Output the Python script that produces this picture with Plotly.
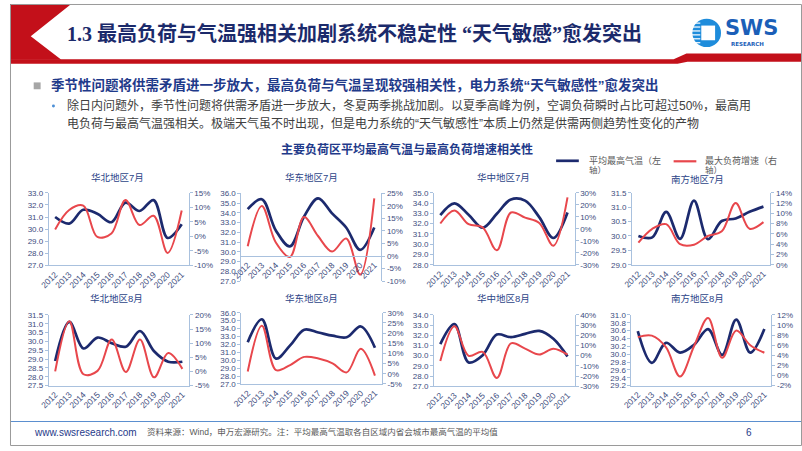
import plotly.graph_objects as go

W, H = 802, 451

years = [str(y) for y in range(2012, 2022)]

titles = ["华北地区7月", "华东地区7月", "华中地区7月", "南方地区7月",
          "华北地区8月", "华东地区8月", "华中地区8月", "南方地区8月"]

# average max temperature (left axis, °C)
temp_hb7 = [31.0, 30.46, 31.6, 31.27, 30.57, 32.19, 31.5, 32.4, 29.27, 30.4]
temp_hd7 = [34.39, 35.4, 32.2, 30.56, 33.6, 35.5, 33.95, 32.5, 30.2, 32.5]
temp_hz7 = [32.83, 33.98, 32.87, 31.6, 32.96, 34.36, 34.24, 32.64, 30.6, 33.09]
temp_nf7 = [30.0, 29.95, 30.84, 29.9, 31.23, 29.89, 30.52, 30.61, 30.84, 31.02]
temp_hb8 = [28.89, 31.11, 29.6, 30.22, 29.9, 29.7, 30.59, 29.44, 28.85, 28.85]
temp_hd8 = [32.28, 35.17, 30.2, 31.87, 33.85, 33.5, 33.1, 32.9, 34.26, 31.58]
temp_hz8 = [31.14, 33.1, 29.34, 30.05, 32.07, 31.82, 32.14, 32.43, 31.66, 29.92]
temp_nf8 = [30.59, 29.78, 30.29, 30.04, 30.24, 30.64, 29.98, 30.88, 30.04, 30.64]

# max load growth (right axis, %)
load_hb7 = [2.4, 9.1, 10.6, -0.2, 1.0, 12.5, 3.9, 7.1, -5.7, 8.9]
load_hd7 = [3.9, 20.0, 5.4, -0.4, 15.6, 8.0, 1.8, 7.0, -7.4, 23.0]
load_hz7 = [4.4, 15.3, 3.8, 1.1, -18.0, 13.6, 9.3, 4.9, -14.2, 26.2]
load_nf7 = [4.3, 7.0, 7.9, 4.0, 3.9, 5.6, 6.5, 12.0, 7.0, 8.3]
load_hb8 = [0.0, 17.8, -1.0, 0.2, 11.3, -0.2, 11.3, -2.1, 6.5, 0.9]
load_hd8 = [1.1, 23.6, 1.8, 4.3, 8.3, 7.5, 5.1, 0.7, 12.3, -0.9]
load_hz8 = [-5.3, 28.8, -0.1, 3.7, -22.0, 12.1, 6.9, 1.1, 6.9, 1.1]
load_nf8 = [7.6, 7.9, 5.6, -0.2, 5.8, 11.4, 3.5, 8.9, 6.0, 4.5]

temps = [temp_hb7, temp_hd7, temp_hz7, temp_nf7, temp_hb8, temp_hd8, temp_hz8, temp_nf8]
loads = [load_hb7, load_hd7, load_hz7, load_nf7, load_hb8, load_hd8, load_hz8, load_nf8]

# axis ranges (min, max, step)
left_axes = [(27.0, 33.0, 1.0), (27.0, 36.0, 1.0), (28.0, 35.0, 1.0), (29.0, 31.5, 0.5),
             (27.5, 31.5, 0.5), (27.0, 36.0, 1.0), (27.0, 34.0, 1.0), (29.2, 31.0, 0.2)]
right_axes = [(-10, 15, 5), (-10, 25, 5), (-30, 30, 10), (0, 14, 2),
              (-5, 20, 5), (-5, 30, 5), (-30, 40, 10), (-2, 12, 2)]

# pixel boxes of each plot area: (x0, x1, ytop, ybottom)
boxes = [(39.3, 181, 192.7, 266.7), (234.3, 376, 193.3, 282.7), (429.3, 571.7, 192.7, 266),
         (630, 770, 192.7, 266),
         (39.3, 181.7, 317.3, 389.3), (234.3, 376.7, 315, 387.7), (429.3, 571.7, 317.3, 390),
         (629.3, 771, 317.3, 389.3)]
title_pos = [(109, 177), (305, 177), (500, 177), (696, 179.5),
             (108, 300), (305, 300), (500, 300), (696, 300)]

NAVY = "#1C2A6E"
RED = "#E8474C"
AXC = "#A9C1DE"
TICKC = "#3D4C7E"
CJK = "Liberation Sans, Noto Sans CJK SC"


def px(x):
    return x / W


def py(y):
    return 1 - y / H


def ticks(lo, hi, step, fmt):
    vals = []
    v = lo
    while v <= hi + 1e-9:
        vals.append(round(v, 4))
        v += step
    return vals, [fmt(t) for t in vals]


fig = go.Figure()
layout = {}
annotations = []
shapes = []

for i in range(8):
    n = i + 1
    xa = "xaxis" if n == 1 else f"xaxis{n}"
    xr = "x" if n == 1 else f"x{n}"
    yl_id = 2 * i + 1
    yr_id = 2 * i + 2
    yla = "yaxis" if yl_id == 1 else f"yaxis{yl_id}"
    ylr = "y" if yl_id == 1 else f"y{yl_id}"
    yra = f"yaxis{yr_id}"
    yrr = f"y{yr_id}"
    x0, x1, yt, yb = boxes[i]

    fig.add_trace(go.Scatter(x=years, y=temps[i], xaxis=xr, yaxis=ylr, mode="lines",
                             line=dict(color=NAVY, width=2.7, shape="spline", smoothing=1.0),
                             showlegend=False, hoverinfo="skip"))
    fig.add_trace(go.Scatter(x=years, y=loads[i], xaxis=xr, yaxis=yrr, mode="lines",
                             line=dict(color=RED, width=2.0, shape="spline", smoothing=1.0),
                             showlegend=False, hoverinfo="skip"))

    lo, hi, st = left_axes[i]
    lv, lt = ticks(lo, hi, st, lambda t: f"{t:.1f}")
    ro, rh, rs = right_axes[i]
    rv, rt = ticks(ro, rh, rs, lambda t: f"{int(round(t))}%")

    xdict = dict(domain=[px(x0), px(x1)], type="category", tickangle=-45,
                 showline=True, linecolor=AXC, linewidth=1, ticks="",
                 tickfont=dict(size=8.5, color=TICKC, family=CJK), showgrid=False,
                 zeroline=False, range=[-0.45, 9.5], fixedrange=True, ticklen=0)
    if i == 1:
        # horizontal axis crosses at 0% of the right axis
        frac = (0 - ro) / (rh - ro)
        pos = py(yb) + frac * (py(yt) - py(yb))
        xdict.update(anchor="free", position=pos)
    else:
        xdict.update(anchor=ylr)
    layout[xa] = xdict
    layout[yla] = dict(domain=[py(yb), py(yt)], anchor=xr, range=[lo, hi],
                       tickvals=lv, ticktext=lt, showline=True, linecolor=AXC,
                       linewidth=1, ticks="outside", ticklen=3, tickcolor=AXC,
                       tickfont=dict(size=8, color=TICKC, family=CJK), showgrid=False,
                       zeroline=False, fixedrange=True)
    layout[yra] = dict(overlaying=ylr, side="right", anchor=xr, range=[ro, rh],
                       tickvals=rv, ticktext=rt, showline=True, linecolor=AXC,
                       linewidth=1, ticks="outside", ticklen=3, tickcolor=AXC,
                       tickfont=dict(size=8, color=TICKC, family=CJK), showgrid=False,
                       zeroline=False, fixedrange=True)
    tx, ty = title_pos[i]
    annotations.append(dict(x=px(tx), y=py(ty), xref="paper", yref="paper",
                            text=titles[i], showarrow=False, xanchor="center", yanchor="middle",
                            font=dict(size=9.5, color="#2C4588", family=CJK)))

# ---- slide decorations ----
RED_H = "#C3101A"
# header chevron
shapes.append(dict(type="path", xref="paper", yref="paper",
                   path=f"M {px(0)},{py(0)} L {px(62)},{py(0)} L {px(21)},{py(33)} L {px(52)},{py(57)} L {px(0)},{py(57)} Z",
                   fillcolor=RED_H, line=dict(width=0), layer="above"))
# header bottom band
shapes.append(dict(type="path", xref="paper", yref="paper",
                   path=(f"M {px(0)},{py(56.5)} L {px(672)},{py(56.5)} L {px(685)},{py(50.5)} "
                         f"L {px(802)},{py(50.5)} L {px(802)},{py(59)} L {px(686)},{py(59)} "
                         f"L {px(676)},{py(61)} L {px(0)},{py(61)} Z"),
                   fillcolor=RED_H, line=dict(width=0), layer="above"))
# logo
shapes.append(dict(type="circle", xref="paper", yref="paper",
                   x0=px(691), x1=px(720), y0=py(44), y1=py(15),
                   fillcolor="#1E8CDB", line=dict(width=0)))
shapes.append(dict(type="rect", xref="paper", yref="paper",
                   x0=px(700), x1=px(714), y0=py(37), y1=py(22),
                   fillcolor="white", line=dict(width=0)))
for yy in [19.5, 23.5, 27.5, 31.5, 35.5, 39.5]:
    shapes.append(dict(type="line", xref="paper", yref="paper",
                       x0=px(688), x1=px(699), y0=py(yy), y1=py(yy),
                       line=dict(color="white", width=1.2)))
annotations.append(dict(x=px(722), y=py(24.5), xref="paper", yref="paper", text="<b>SWS</b>",
                        showarrow=False, xanchor="left", yanchor="middle",
                        font=dict(size=21, color="#1B5FB8", family="DejaVu Sans")))
annotations.append(dict(x=px(747), y=py(40.5), xref="paper", yref="paper", text="<b>RESEARCH</b>",
                        showarrow=False, xanchor="center", yanchor="middle",
                        font=dict(size=5.5, color="#1B5FB8", family="DejaVu Sans")))
# header title
annotations.append(dict(x=px(56), y=py(30), xref="paper", yref="paper",
                        text="<b>1.3 最高负荷与气温强相关加剧系统不稳定性 “天气敏感”愈发突出</b>",
                        showarrow=False, xanchor="left", yanchor="middle",
                        font=dict(size=20, color="#1B2A6B", family="Liberation Serif, Noto Sans CJK SC")))
# bullets
shapes.append(dict(type="rect", xref="paper", yref="paper",
                   x0=px(24), x1=px(31), y0=py(87), y1=py(80),
                   fillcolor="#A6A6A6", line=dict(width=0)))
annotations.append(dict(x=px(39), y=py(83), xref="paper", yref="paper",
                        text="<b>季节性问题将供需矛盾进一步放大，最高负荷与气温呈现较强相关性，电力系统“天气敏感性”愈发突出</b>",
                        showarrow=False, xanchor="left", yanchor="middle",
                        font=dict(size=13.5, color="#1F3A8A", family=CJK)))
shapes.append(dict(type="circle", xref="paper", yref="paper",
                   x0=px(42.5), x1=px(45.5), y0=py(105.5), y1=py(102.5),
                   fillcolor="#4C8FD6", line=dict(width=0)))
annotations.append(dict(x=px(56), y=py(104), xref="paper", yref="paper",
                        text="除日内问题外，季节性问题将供需矛盾进一步放大，冬夏两季挑战加剧。以夏季高峰为例，空调负荷瞬时占比可超过50%，最高用",
                        showarrow=False, xanchor="left", yanchor="middle",
                        font=dict(size=12, color="#404040", family=CJK)))
annotations.append(dict(x=px(56), y=py(122), xref="paper", yref="paper",
                        text="电负荷与最高气温强相关。极端天气虽不时出现，但是电力系统的“天气敏感性”本质上仍然是供需两侧趋势性变化的产物",
                        showarrow=False, xanchor="left", yanchor="middle",
                        font=dict(size=12, color="#404040", family=CJK)))
# chart title
annotations.append(dict(x=px(402), y=py(148), xref="paper", yref="paper",
                        text="<b>主要负荷区平均最高气温与最高负荷增速相关性</b>",
                        showarrow=False, xanchor="center", yanchor="middle",
                        font=dict(size=12, color="#1F3A8A", family=CJK)))
# legend
shapes.append(dict(type="line", xref="paper", yref="paper", x0=px(553), x1=px(576),
                   y0=py(160), y1=py(160), line=dict(color=NAVY, width=2.7)))
shapes.append(dict(type="line", xref="paper", yref="paper", x0=px(672), x1=px(695),
                   y0=py(160.5), y1=py(160.5), line=dict(color=RED, width=2.2)))
for lx, l1 in [(584, "平均最高气温（左"), (702, "最大负荷增速（右")]:
    annotations.append(dict(x=px(lx), y=py(159.5), xref="paper", yref="paper",
                            text=l1, showarrow=False, xanchor="left", yanchor="middle",
                            font=dict(size=9, color="#595959", family=CJK)))
    annotations.append(dict(x=px(lx), y=py(169), xref="paper", yref="paper",
                            text="轴）", showarrow=False, xanchor="left", yanchor="middle",
                            font=dict(size=8.5, color="#595959", family=CJK)))
# footer
shapes.append(dict(type="line", xref="paper", yref="paper", x0=0, x1=1,
                   y0=py(426), y1=py(426), line=dict(color="#5B8FCF", width=1.2)))
annotations.append(dict(x=px(22), y=py(437), xref="paper", yref="paper",
                        text="www.swsresearch.com", showarrow=False, xanchor="left", yanchor="middle",
                        font=dict(size=10, color="#1F3A8A", family="Liberation Sans")))
annotations.append(dict(x=px(137), y=py(437), xref="paper", yref="paper",
                        text="资料来源：Wind，申万宏源研究。注：平均最高气温取各自区域内省会城市最高气温的平均值",
                        showarrow=False, xanchor="left", yanchor="middle",
                        font=dict(size=8.5, color="#595959", family=CJK)))
annotations.append(dict(x=px(748), y=py(437), xref="paper", yref="paper",
                        text="6", showarrow=False, xanchor="center", yanchor="middle",
                        font=dict(size=10, color="#1F3A8A", family="Liberation Sans")))
# slide border
shapes.append(dict(type="rect", xref="paper", yref="paper", x0=px(0.5), x1=px(801.5),
                   y0=py(450.5), y1=py(0.5), line=dict(color="#9A9A9A", width=1), layer="above"))

fig.update_layout(**layout)
fig.update_layout(width=W, height=H, margin=dict(l=0, r=0, t=0, b=0),
                  paper_bgcolor="white", plot_bgcolor="rgba(0,0,0,0)",
                  showlegend=False, annotations=annotations, shapes=shapes,
                  font=dict(family=CJK))

fig.write_html("out.html", config={"displayModeBar": False})
